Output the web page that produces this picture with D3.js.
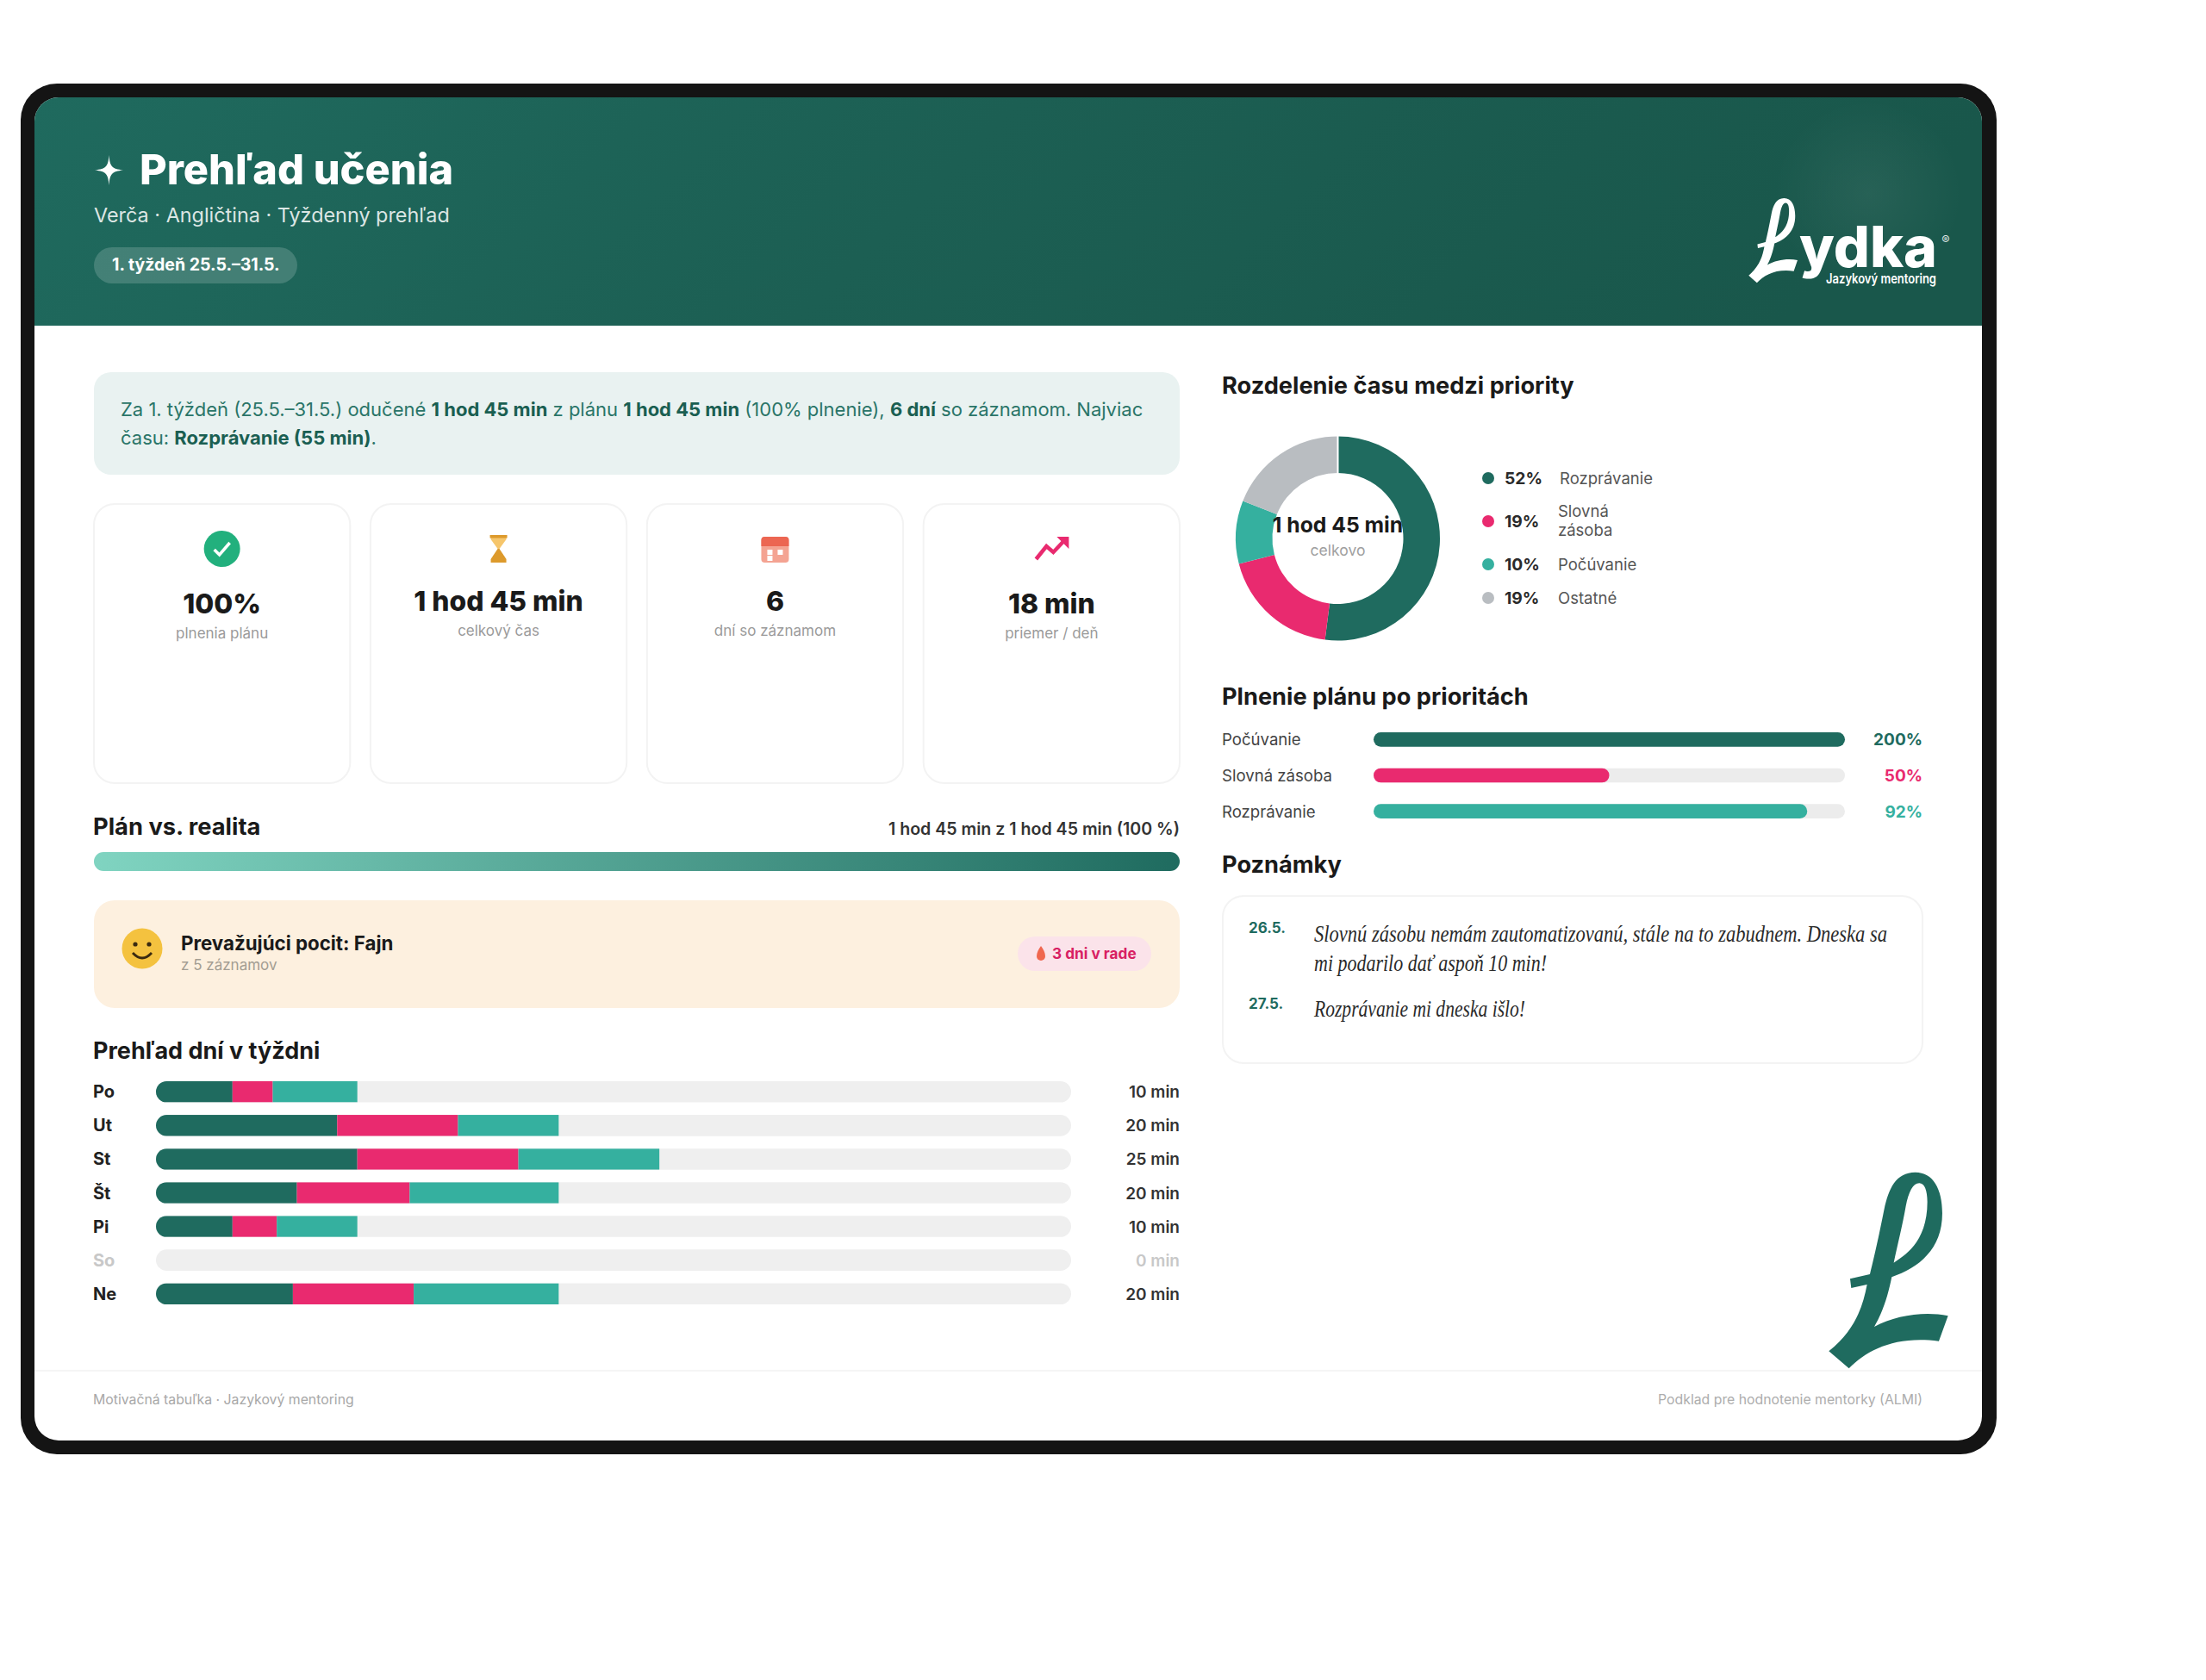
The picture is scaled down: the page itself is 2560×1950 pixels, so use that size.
<!DOCTYPE html>
<html lang="sk"><head><meta charset="utf-8">
<script src="https://cdn.jsdelivr.net/npm/d3@7/dist/d3.min.js"></script>
<style>html,body{margin:0;padding:0;background:#fff}svg{display:block}text{font-family:Inter,"Noto Sans",sans-serif}</style>
</head><body><div id="c"></div>
<script>
// ---- data ----
const days = ["Po","Ut","St","Št","Pi","So","Ne"];
const dayTotals = ["10 min","20 min","25 min","20 min","10 min","0 min","20 min"];
const seriesKeys = ["Rozprávanie","Slovná zásoba","Počúvanie"];
const rozpravanie = [3.8,9,10,7,3.8,0,6.8];
const slovna = [2,6,8,5.6,2.2,0,6];
const pocuvanie = [4.2,5,7,7.4,4,0,7.2];
const dayAxisMax = 45.45;
const donutLabels = ["Rozprávanie",["Slovná","zásoba"],"Počúvanie","Ostatné"];
const donutValues = [52,19,10,19];
const priorityLabels = ["Počúvanie","Slovná zásoba","Rozprávanie"];
const priorityValues = [200,50,92];
const kpiValues = ["100%","1 hod 45 min","6","18 min"];
const kpiLabels = ["plnenia plánu","celkový čas","dní so záznamom","priemer / deň"];

const DARK="#1f6b5f",PINK="#e92a6f",TEAL="#35b09f",GREY="#b9bdc1",TRACK="#efefef",INK="#1a1a1a";
const LOGO="M667 745L737 805C800 740 900 690 1050 710L1082 622C1000 605 900 620 825 660C860 600 875 540 886 487C980 455 1062 390 1062 265C1062 180 1030 122 968 122C900 122 875 180 860 250C850 300 830 400 810 477L741 493L745 525L800 513C785 590 760 670 667 745ZM893 437C925 415 1010 370 1010 225C1010 185 1000 160 982 160C960 160 945 190 935 240C925 300 905 380 893 437Z";

const svg=d3.select("#c").append("svg").attr("width",2560).attr("height",1950).attr("viewBox","0 0 2560 1950");
const defs=svg.append("defs");
function T(g,x,y,s,size,weight,fill,anchor){return g.append("text").attr("x",x).attr("y",y).text(s).attr("font-size",size).attr("font-weight",weight).attr("fill",fill).attr("text-anchor",anchor||"start");}
function R(g,x,y,w,h,r,fill,stroke,sw){const e=g.append("rect").attr("x",x).attr("y",y).attr("width",w).attr("height",h).attr("rx",r).attr("ry",r).attr("fill",fill);if(stroke)e.attr("stroke",stroke).attr("stroke-width",sw||2);return e;}

// gradients
const hg=defs.append("linearGradient").attr("id","hg").attr("x1",0).attr("y1",0).attr("x2",1).attr("y2",0.12);
hg.append("stop").attr("offset",0).attr("stop-color","#1f6a5e");
hg.append("stop").attr("offset",0.5).attr("stop-color","#1c5f53");
hg.append("stop").attr("offset",1).attr("stop-color","#19574b");
const glow=defs.append("radialGradient").attr("id","glow");
glow.append("stop").attr("offset",0).attr("stop-color","#fff").attr("stop-opacity",0.06);
glow.append("stop").attr("offset",1).attr("stop-color","#fff").attr("stop-opacity",0);
const pg=defs.append("linearGradient").attr("id","pg");
pg.append("stop").attr("offset",0).attr("stop-color","#80d4c1");
pg.append("stop").attr("offset",1).attr("stop-color",DARK);
defs.append("clipPath").attr("id","screen").append("rect").attr("x",40).attr("y",113).attr("width",2260).attr("height",1559).attr("rx",28);

// device frame
R(svg,24,97,2293,1591,42,"#141414");
const screen=svg.append("g").attr("clip-path","url(#screen)");
screen.append("rect").attr("x",40).attr("y",113).attr("width",2260).attr("height",1559).attr("fill","#fff");
screen.append("rect").attr("x",40).attr("y",113).attr("width",2260).attr("height",265).attr("fill","url(#hg)");
screen.append("circle").attr("cx",2168).attr("cy",225).attr("r",110).attr("fill","url(#glow)");

// header
const g=svg.append("g");
g.append("path").attr("d","M126.5 180C127.5 193 129.5 196 143 197.5C129.5 199 127.5 202 126.5 215C125.5 202 123.5 199 110 197.5C123.5 196 125.5 193 126.5 180Z").attr("fill","#fff");
T(g,162,214,"Prehľad učenia",48.7,800,"#fff");
T(g,109,258,"Verča · Angličtina · Týždenný prehľad",23.4,400,"#fff").attr("fill-opacity",.85);
R(g,109,287,236,42,21,"#fff").attr("fill-opacity",.17);
T(g,130,314,"1. týždeň 25.5.–31.5.",19.5,700,"#fff");
// header logo
g.append("path").attr("d",LOGO).attr("fill","#fff").attr("fill-rule","evenodd").attr("transform","translate(2029.3,230) scale(.1366,.144) translate(-667,-122)");
T(g,2088,310,"ydka",66,800,"#fff").attr("textLength",160).attr("lengthAdjust","spacingAndGlyphs");
T(g,2119,329,"Jazykový mentoring",15.5,600,"#fff").attr("textLength",128).attr("lengthAdjust","spacingAndGlyphs");
T(g,2258,284,"®",14,500,"#fff","middle").attr("fill-opacity",.85);

// summary
R(g,109,432,1260,119,20,"#e9f2f1");
const SUM="#2a7568",SUMB="#1a5f52";
function rich(x,y,parts){const t=g.append("text").attr("x",x).attr("y",y).attr("font-size",22).attr("fill",SUM);
 parts.forEach(p=>t.append("tspan").text(p[0]).attr("font-weight",p[1]?700:400).attr("fill",p[1]?SUMB:SUM));}
rich(140,483,[["Za 1. týždeň (25.5.–31.5.) odučené "],["1 hod 45 min",1],[" z plánu "],["1 hod 45 min",1],[" (100% plnenie), "],["6 dní",1],[" so záznamom. Najviac"]]);
rich(140,516,[["času: "],["Rozprávanie (55 min)",1],["."]]);

// KPI cards
const cardX=d3.scaleBand().domain(d3.range(4)).range([109,1369]).paddingInner(.0735);
const valueY=[712,709,709,712],labelY=[741,738,738,741];
kpiValues.forEach((v,i)=>{
  R(g,cardX(i),585,cardX.bandwidth(),324,24,"#fff","#f3f3f3",2);
  const cx=cardX(i)+cardX.bandwidth()/2;
  T(g,cx,valueY[i],v,31.8,800,INK,"middle");
  T(g,cx,labelY[i],kpiLabels[i],17,400,"#9a9a9a","middle");
});
const ic=(i)=>cardX(i)+cardX.bandwidth()/2;
const a=g.append("g").attr("transform",`translate(${ic(0)},637)`);
a.append("circle").attr("r",21).attr("fill","#22b07d");
a.append("path").attr("d","M-9 1L-3 7L9 -7").attr("fill","none").attr("stroke","#fff").attr("stroke-width",3.5);
const b=g.append("g").attr("transform",`translate(${ic(1)},637)`);
b.append("path").attr("d","M-9 -16H9V-11L1 0H-1L-9 -11Z").attr("fill","#f6c66c");
b.append("path").attr("d","M-1 0H1L9 12V16H-9V12Z").attr("fill","#dd9a2c");
b.append("rect").attr("x",-10).attr("y",-16).attr("width",20).attr("height",3.5).attr("fill","#dd9a2c");
const c=g.append("g").attr("transform",`translate(${ic(2)},638)`);
R(c,-16,-15,32,30,4,"#f4a392");
c.append("path").attr("d","M-16 -4V-11A4 4 0 0 1 -12 -15H12A4 4 0 0 1 16 -11V-4Z").attr("fill","#ec6652");
[[-9,0],[3,0],[-9,7]].forEach(p=>c.append("rect").attr("x",p[0]).attr("y",p[1]).attr("width",6).attr("height",6).attr("fill","#fff"));
const d=g.append("g").attr("transform",`translate(${ic(3)},637)`);
d.append("path").attr("d","M-18 12L-6 -3L2 4L17 -12").attr("fill","none").attr("stroke",PINK).attr("stroke-width",4.5);
d.append("path").attr("d","M6 -14L20 -14L20 0Z").attr("fill",PINK);

// plan vs reality
T(g,108,969,"Plán vs. realita",27.3,700,INK);
T(g,1369,969,"1 hod 45 min z 1 hod 45 min (100 %)",19.6,600,"#333","end");
R(g,109,989,1260,22,11,"url(#pg)");

// feeling
R(g,109,1045,1260,125,24,"#fdf0df");
const f=g.append("g").attr("transform","translate(165,1101)");
f.append("circle").attr("r",23.5).attr("fill","#f4c23f");
f.append("circle").attr("cx",-8).attr("cy",-5).attr("r",2.6).attr("fill","#3a2a10");
f.append("circle").attr("cx",8).attr("cy",-5).attr("r",2.6).attr("fill","#3a2a10");
f.append("path").attr("d","M-11 5Q0 17 11 5").attr("fill","none").attr("stroke","#3a2a10").attr("stroke-width",2.8);
T(g,210,1103,"Prevažujúci pocit: Fajn",22.3,700,INK);
T(g,210,1126,"z 5 záznamov",17,400,"#a39d92");
R(g,1181,1087,155,40,20,"#fbe3ea");
g.append("path").attr("d","M1208 1098C1211 1102 1213 1106 1213 1110A5 5 0 0 1 1203 1110C1203 1106 1205 1102 1208 1098Z").attr("fill","#f0674f");
T(g,1221,1113,"3 dni v rade",17.2,700,"#d81f63");

// days
T(g,108,1229,"Prehľad dní v týždni",27,700,INK);
const dayRows=days.map((day,i)=>({day,"Rozprávanie":rozpravanie[i],"Slovná zásoba":slovna[i],"Počúvanie":pocuvanie[i]}));
const stack=d3.stack().keys(seriesKeys)(dayRows);
const x=d3.scaleLinear().domain([0,dayAxisMax]).range([181,1243]);
const y=d3.scaleBand().domain(days).range([1255,1514]).paddingInner(.37);
const color=d3.scaleOrdinal().domain(seriesKeys).range([DARK,PINK,TEAL]);
const dg=g.append("g");
days.forEach((day,i)=>{
  defs.append("clipPath").attr("id","dc"+i).append("rect").attr("x",x(0)).attr("y",y(day)).attr("width",x(dayAxisMax)-x(0)).attr("height",y.bandwidth()).attr("rx",y.bandwidth()/2);
  R(dg,x(0),y(day),x(dayAxisMax)-x(0),y.bandwidth(),y.bandwidth()/2,TRACK);
  const empty=day==="So";
  T(dg,108,y(day)+y.bandwidth()/2+7,day,20,700,empty?"#c8c8c8":"#222");
  T(dg,1369,y(day)+y.bandwidth()/2+7,dayTotals[i],19,600,empty?"#c8c8c8":"#333","end");
});
stack.forEach(s=>{
  dg.append("g").selectAll("rect").data(s).join("rect")
   .attr("x",p=>x(p[0])).attr("width",p=>x(p[1])-x(p[0]))
   .attr("y",p=>y(p.data.day)).attr("height",y.bandwidth())
   .attr("fill",color(s.key)).attr("clip-path",(p,i)=>`url(#dc${i})`);
});

// donut
T(g,1418,457,"Rozdelenie času medzi priority",27.2,700,INK);
const pie=d3.pie().sort(null).value(v=>v)(donutValues);
const arc=d3.arc().innerRadius(76).outerRadius(118.5);
const dc=[DARK,PINK,TEAL,GREY];
const dn=g.append("g").attr("transform","translate(1552.5,625)");
dn.selectAll("path").data(pie).join("path").attr("d",arc).attr("fill",(p,i)=>dc[i]);
dn.append("rect").attr("x",-1).attr("y",-119).attr("width",2).attr("height",43).attr("fill","#fff");
T(dn,0,-7,"1 hod 45 min",24.7,700,INK,"middle");
T(dn,0,20,"celkovo",17.5,400,"#a0a0a0","middle");
const ly=d3.scaleOrdinal().domain(d3.range(4)).range([555,605,655,694]);
const lx=[1810,1808,1808,1808];
donutValues.forEach((v,i)=>{
  g.append("circle").attr("cx",1727).attr("cy",ly(i)).attr("r",7).attr("fill",dc[i]);
  T(g,1746,ly(i)+7,v+"%",19.3,700,"#2a2a2a");
  const l=donutLabels[i];
  if(Array.isArray(l)){T(g,lx[i],ly(i)-5,l[0],18.5,400,"#555");T(g,lx[i],ly(i)+17,l[1],18.5,400,"#555");}
  else T(g,lx[i],ly(i)+7,l,18.5,400,"#555");
});

// priorities
T(g,1418,818,"Plnenie plánu po prioritách",27.2,700,INK);
const px=d3.scaleLinear().domain([0,100]).range([1594,2141]).clamp(true);
const py=d3.scaleBand().domain(priorityLabels).range([850,950]).paddingInner(.6);
const pc=[DARK,PINK,TEAL];
priorityLabels.forEach((l,i)=>{
  const yy=py(l),h=py.bandwidth();
  R(g,px(0),yy,px(100)-px(0),h,h/2,"#ececec");
  R(g,px(0),yy,px(priorityValues[i])-px(0),h,h/2,pc[i]);
  T(g,1418,yy+h/2+7,l,18.6,400,"#444");
  T(g,2231,yy+h/2+7,priorityValues[i]+"%",19,700,pc[i],"end");
});

// notes
T(g,1418,1013,"Poznámky",27.2,700,INK);
R(g,1419,1040,812,194,24,"#fff","#f3f3f3",2);
T(g,1449,1083,"26.5.",17,700,DARK);
T(g,1449,1171,"27.5.",17,700,DARK);
function note(yy,w,s){g.append("text").attr("x",1525).attr("y",yy).attr("font-size",27).attr("font-style","italic").attr("fill","#2a2a2a").style("font-family","'Liberation Serif',serif").text(s).attr("textLength",w).attr("lengthAdjust","spacingAndGlyphs");}
note(1093,665,"Slovnú zásobu nemám zautomatizovanú, stále na to zabudnem. Dneska sa");
note(1127,270,"mi podarilo dať aspoň 10 min!");
note(1180,245,"Rozprávanie mi dneska išlo!");

// footer
svg.append("rect").attr("x",40).attr("y",1590).attr("width",2260).attr("height",2).attr("fill","#f5f5f5");
T(svg,108,1630,"Motivačná tabuľka · Jazykový mentoring",15.8,400,"#a8a8a8");
T(svg,2231,1630,"Podklad pre hodnotenie mentorky (ALMI)",15.8,400,"#adadad","end");
svg.append("path").attr("d",LOGO).attr("fill",DARK).attr("fill-rule","evenodd").attr("transform","translate(1900,1320) scale(.3333)");
</script></body></html>
